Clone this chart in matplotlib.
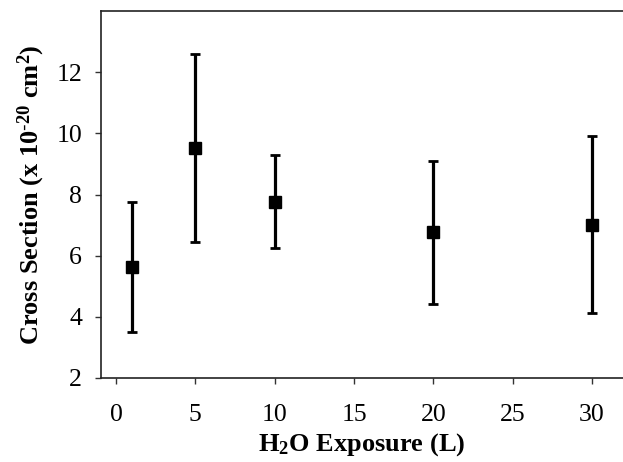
import matplotlib
matplotlib.use("Agg")
import matplotlib.pyplot as plt

# exposure in Langmuir, cross section in 1e-20 cm^2 with lower/upper error limits
exposure = [1, 5, 10, 20, 30]
cross_section = [5.63, 9.52, 7.75, 6.77, 7.01]
err_low = [3.51, 6.43, 6.25, 4.41, 4.11]
err_high = [7.77, 12.61, 9.28, 9.11, 9.93]
x_ticks = [0, 5, 10, 15, 20, 25, 30]
y_ticks = [2, 4, 6, 8, 10, 12]

plt.rcParams['font.family'] = ['Liberation Serif', 'DejaVu Serif']
plt.rcParams['mathtext.default'] = 'regular'

fig = plt.figure(figsize=(6.23, 4.62), dpi=100)
ax = fig.add_axes([0.162, 0.182, 0.838, 0.794])

yerr = [[c - lo for c, lo in zip(cross_section, err_low)],
        [hi - c for c, hi in zip(cross_section, err_high)]]
ax.errorbar(exposure, cross_section, yerr=yerr, fmt='s', color='black',
            markersize=9, elinewidth=2.3, capsize=3.8, capthick=2.0,
            ecolor='black', clip_on=False)

ax.set_xlim(-0.95, 31.95)
ax.set_ylim(2, 14)
ax.set_xticks(x_ticks)
ax.set_yticks(y_ticks)
ax.tick_params(labelsize=18.5, direction='out', length=4.5, width=1, color='#333333')
ax.tick_params(axis='x', pad=14)
ax.tick_params(axis='y', pad=9)

for side in ['left', 'bottom', 'top']:
    ax.spines[side].set_color('#222222')
    ax.spines[side].set_linewidth(1.2)
ax.spines['right'].set_visible(False)

ax.set_xlabel(r'H$_2$O Exposure (L)', fontsize=19, fontweight='bold', labelpad=4)
ax.set_ylabel(r'Cross Section (x 10$^{\text{-}20}$ cm$^{2}$)', fontsize=19,
              fontweight='bold', labelpad=7)

fig.savefig('out.png', dpi=100)
